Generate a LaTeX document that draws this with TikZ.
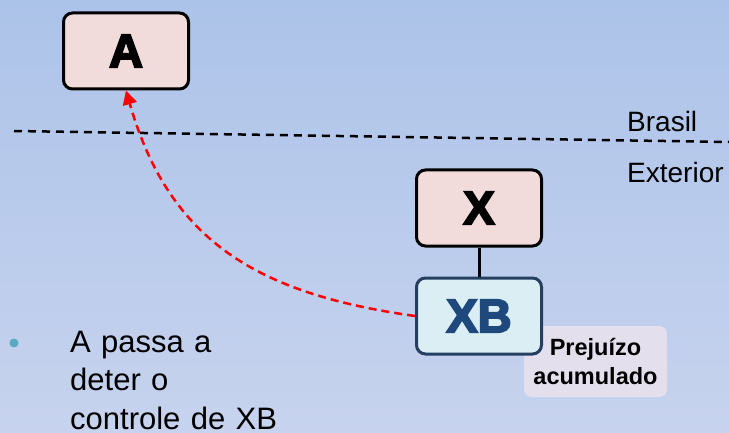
\documentclass[tikz,border=0pt]{standalone}
\usepackage{fontspec}
\setmainfont{Liberation Sans}
\newfontfamily\blackfont[FakeBold=4]{Liberation Sans Bold}
\usetikzlibrary{arrows.meta, positioning}
\definecolor{fundocima}{RGB}{172,195,233}
\definecolor{fundobaixo}{RGB}{199,211,238}
\definecolor{rosa}{RGB}{242,220,219}
\definecolor{azulclaro}{RGB}{219,238,244}
\definecolor{azulescuro}{RGB}{31,73,125}
\definecolor{bordaazul}{RGB}{36,63,96}
\definecolor{lilas}{RGB}{228,223,236}
\definecolor{marcador}{RGB}{90,170,195}
\tikzstyle{empresa} = [rectangle, rounded corners = 9pt, draw = black, line width = 3pt,
fill = rosa, minimum width = 125pt, minimum height = 76pt, inner sep = 0pt,
font = \blackfont\fontsize{47}{47}\selectfont]
\tikzstyle{filial} = [empresa, draw = bordaazul, fill = azulclaro, text = azulescuro]
\tikzstyle{nota} = [rectangle, rounded corners = 8pt, fill = lilas, minimum width = 143pt,
minimum height = 71pt, text width = 140pt, align = center, inner sep = 0pt,
font = \bfseries\fontsize{23.5}{29}\selectfont]
\tikzstyle{rotulo} = [anchor = base west, inner sep = 0pt, font = \fontsize{28}{34}\selectfont]
\tikzstyle{fronteira} = [dashed, dash pattern = on 8pt off 6pt, line width = 2.5pt]
\tikzstyle{controle} = [red, line width = 2.5pt, dash pattern = on 8pt off 5pt,
-{Triangle[width = 14pt, length = 14pt]}]

\begin{document}
\begin{tikzpicture} [x = 1pt, y = 1pt]
\shade[top color = fundocima, bottom color = fundobaixo] (0,0) rectangle (729,432);
\useasboundingbox (0,0) rectangle (729,432);

% fronteira entre os dois paises
\coordinate (esq) at (14,301);
\coordinate (dir) at (729,290);
\draw[fronteira] (esq) -- (dir);
\node (brasil) [rotulo] at (627,300) {Brasil};
\node (exterior) [rotulo] at (627,249) {Exterior};

\node (prejuizo) [nota] at (595.5,70.5) {Prejuízo\\acumulado};

\node (a) [empresa] at (126,381) {A};
\node (x) [empresa] at (479,224) {X};
\node (xb) [filial] at (479,116) {XB};

\draw[line width = 3pt] (x) -- (xb);
\draw[controle] (xb.west) to[out = 172, in = -74, looseness = 1.1] (a.south);

% texto do marcador
\fill[marcador] (14,89) circle (4.5pt);
\node (texto) [anchor = base west, inner sep = 0pt, text width = 250pt, align = left,
font = \fontsize{31}{38.3}\selectfont] at (70,79.5) {A passa a\\deter o\\controle de XB};
\end{tikzpicture}
\end{document}
